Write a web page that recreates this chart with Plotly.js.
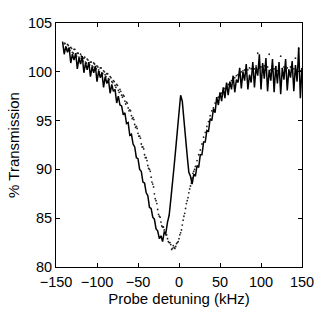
<!DOCTYPE html>
<html>
<head>
<meta charset="utf-8">
<script src="https://cdn.plot.ly/plotly-3.0.1.min.js"></script>
<style>html,body{margin:0;padding:0;background:#fff}#chart{width:332px;height:310px}</style>
</head>
<body>
<div id="chart"></div>
<script>
// Solid trace (with coupling field): detuning kHz, -142..150 step 2
const solidX = [-142,-140,-138,-136,-134,-132,-130,-128,-126,-124,-122,-120,-118,-116,-114,-112,-110,-108,-106,-104,-102,-100,-98,-96,-94,-92,-90,-88,-86,-84,-82,-80,-78,-76,-74,-72,-70,-68,-66,-64,-62,-60,-58,-56,-54,-52,-50,-48,-46,-44,-42,-40,-38,-36,-34,-32,-30,-28,-26,-24,-22,-20,-18,-16,-14,-12,-10,-8,-6,-4,-2,0,2,4,6,8,10,12,14,16,18,20,22,24,26,28,30,32,34,36,38,40,42,44,46,48,50,52,54,56,58,60,62,64,66,68,70,72,74,76,78,80,82,84,86,88,90,92,94,96,98,100,102,104,106,108,110,112,114,116,118,120,122,124,126,128,130,132,134,136,138,140,142,144,146,148,150];
const solidY = [103.1,101.8,102.6,102.0,102.5,100.9,101.8,101.2,101.9,100.3,101.4,100.8,101.6,99.9,100.9,100.2,101.0,99.5,100.5,99.9,100.6,99.0,100.1,99.4,99.9,98.4,99.5,98.8,99.2,97.8,98.7,98.0,98.2,96.8,97.5,96.6,96.5,95.6,95.8,94.7,94.8,93.5,93.6,92.6,92.3,91.2,91.1,90.0,89.8,88.7,88.6,87.6,87.3,86.1,86.0,85.1,84.9,83.9,83.7,82.9,83.2,82.6,83.6,83.5,84.6,85.3,86.9,88.4,90.3,92.1,94.3,95.8,97.6,97.0,95.1,92.9,91.4,89.7,89.3,88.5,89.5,89.3,90.4,90.2,91.5,91.5,92.8,92.8,94.0,93.9,95.2,95.0,96.2,95.8,97.4,96.6,97.9,97.0,98.4,97.3,98.9,97.6,99.0,98.2,99.6,97.9,99.2,98.9,100.4,98.3,100.0,99.1,100.8,98.2,99.7,98.9,101.0,98.4,100.5,99.6,101.8,98.2,100.9,99.3,101.4,98.0,100.2,99.1,101.3,97.9,100.6,98.8,101.0,97.7,100.4,99.2,101.3,98.1,100.2,99.4,101.1,98.0,100.7,99.0,102.5,97.3,100.4];

// Dotted trace (without coupling field): even detunings, -140..150 step 2
const dotX = [-140,-138,-136,-134,-132,-130,-128,-126,-124,-122,-120,-118,-116,-114,-112,-110,-108,-106,-104,-102,-100,-98,-96,-94,-92,-90,-88,-86,-84,-82,-80,-78,-76,-74,-72,-70,-68,-66,-64,-62,-60,-58,-56,-54,-52,-50,-48,-46,-44,-42,-40,-38,-36,-34,-32,-30,-28,-26,-24,-22,-20,-18,-16,-14,-12,-10,-8,-6,-4,-2,0,2,4,6,8,10,12,14,16,18,20,22,24,26,28,30,32,34,36,38,40,42,44,46,48,50,52,54,56,58,60,62,64,66,68,70,72,74,76,78,80,82,84,86,88,90,92,94,96,98,100,102,104,106,108,110,112,114,116,118,120,122,124,126,128,130,132,134,136,138,140,142,144,146,148,150];
const dotY = [102.9,102.5,102.8,102.3,102.5,102.0,102.3,101.8,101.9,101.5,101.8,101.3,101.4,101.0,101.3,100.9,101.0,100.6,100.9,100.4,100.6,100.2,100.4,99.9,100.1,99.7,99.8,99.3,99.5,99.0,99.1,98.6,98.7,98.1,98.2,97.6,97.6,97.0,96.9,96.3,96.1,95.5,95.3,94.6,94.4,93.7,93.4,92.6,92.3,91.5,91.2,90.4,90.0,89.2,88.5,87.5,86.8,85.9,85.2,84.6,84.1,83.8,83.3,82.9,82.5,82.3,81.9,82.0,82.1,82.5,82.9,83.5,84.3,85.2,86.0,86.8,87.6,88.3,89.1,89.8,90.3,90.9,91.5,92.0,92.6,93.3,93.8,94.4,94.9,95.5,96.0,96.3,96.8,97.1,97.4,97.7,97.8,98.1,98.3,98.5,98.7,98.9,99.1,99.2,99.4,99.6,99.7,99.9,100.0,100.1,100.2,100.3,100.2,100.4,100.3,100.5,100.3,100.6,101.9,100.4,100.5,100.2,100.6,100.3,100.5,101.8,100.2,100.6,100.3,100.5,100.1,100.4,101.6,100.3,100.5,100.1,100.4,100.2,100.5,100.0,100.3,101.4,100.2,102.4,100.1,100.3];

// Dotted trace, odd detunings where the dots are visible, -139..19 step 2
const dotX2 = [-139,-137,-135,-133,-131,-129,-127,-125,-123,-121,-119,-117,-115,-113,-111,-109,-107,-105,-103,-101,-99,-97,-95,-93,-91,-89,-87,-85,-83,-81,-79,-77,-75,-73,-71,-69,-67,-65,-63,-61,-59,-57,-55,-53,-51,-49,-47,-45,-43,-41,-39,-37,-35,-33,-31,-29,-27,-25,-23,-21,-19,-17,-15,-13,-11,-9,-7,-5,-3,-1,1,3,5,7,9,11,13,15,17,19];
const dotY2 = [102.9,102.4,102.7,102.2,102.4,101.9,102.3,101.6,101.9,101.4,101.6,101.1,101.5,100.9,101.2,100.7,101.0,100.5,100.8,100.3,100.5,100.0,100.4,99.8,100.0,99.5,99.8,99.2,99.4,98.9,99.0,98.4,98.6,97.9,98.0,97.4,97.5,96.7,96.8,96.0,96.0,95.2,95.1,94.3,94.2,93.4,93.2,92.3,92.1,91.2,90.9,90.1,89.8,88.7,88.2,87.0,86.5,85.4,85.1,84.2,84.1,83.4,83.3,82.6,82.5,81.8,82.2,81.9,82.4,82.6,83.3,83.8,84.8,85.5,86.5,87.1,88.0,88.6,89.6,90.0];

const xTicks = [-150,-100,-50,0,50,100,150];
const yTicks = [80,85,90,95,100,105];
const xTitle = 'Probe detuning (kHz)';
const yTitle = '% Transmission';

const tickFont = {family: 'Liberation Sans, Arial, sans-serif', size: 14.5, color: '#000'};
const titleFont = {family: 'Liberation Sans, Arial, sans-serif', size: 15, color: '#000'};

const dotStyle = {color: '#222', size: 1.8};
const traces = [
  {x: dotX, y: dotY, type: 'scatter', mode: 'markers', marker: dotStyle, hoverinfo: 'skip'},
  {x: dotX2, y: dotY2, type: 'scatter', mode: 'markers', marker: dotStyle, hoverinfo: 'skip'},
  {x: solidX, y: solidY, type: 'scatter', mode: 'lines',
   line: {color: '#000', width: 1.5}, hoverinfo: 'skip'}
];

const axisCommon = {
  showgrid: false, zeroline: false, showline: true, linecolor: '#000', linewidth: 1,
  mirror: 'ticks', ticks: 'inside', ticklen: 4, tickcolor: '#000', tickwidth: 1,
  tickfont: tickFont
};

const layout = {
  width: 332, height: 310,
  margin: {l: 56, r: 30, t: 23, b: 43},
  paper_bgcolor: '#fff', plot_bgcolor: '#fff',
  showlegend: false,
  font: tickFont,
  xaxis: Object.assign({}, axisCommon, {
    range: [-150, 150], tickmode: 'array', tickvals: xTicks,
    ticktext: xTicks.map(v => v < 0 ? '\u2212' + Math.abs(v) : String(v)),
    ticklabelstandoff: 2,
    title: {text: xTitle, font: titleFont, standoff: 3}
  }),
  yaxis: Object.assign({}, axisCommon, {
    range: [80, 105], tickmode: 'array', tickvals: yTicks,
    ticktext: yTicks.map(String),
    title: {text: yTitle, font: titleFont, standoff: 4}
  })
};

Plotly.newPlot('chart', traces, layout, {staticPlot: true, displayModeBar: false});
</script>
</body>
</html>
